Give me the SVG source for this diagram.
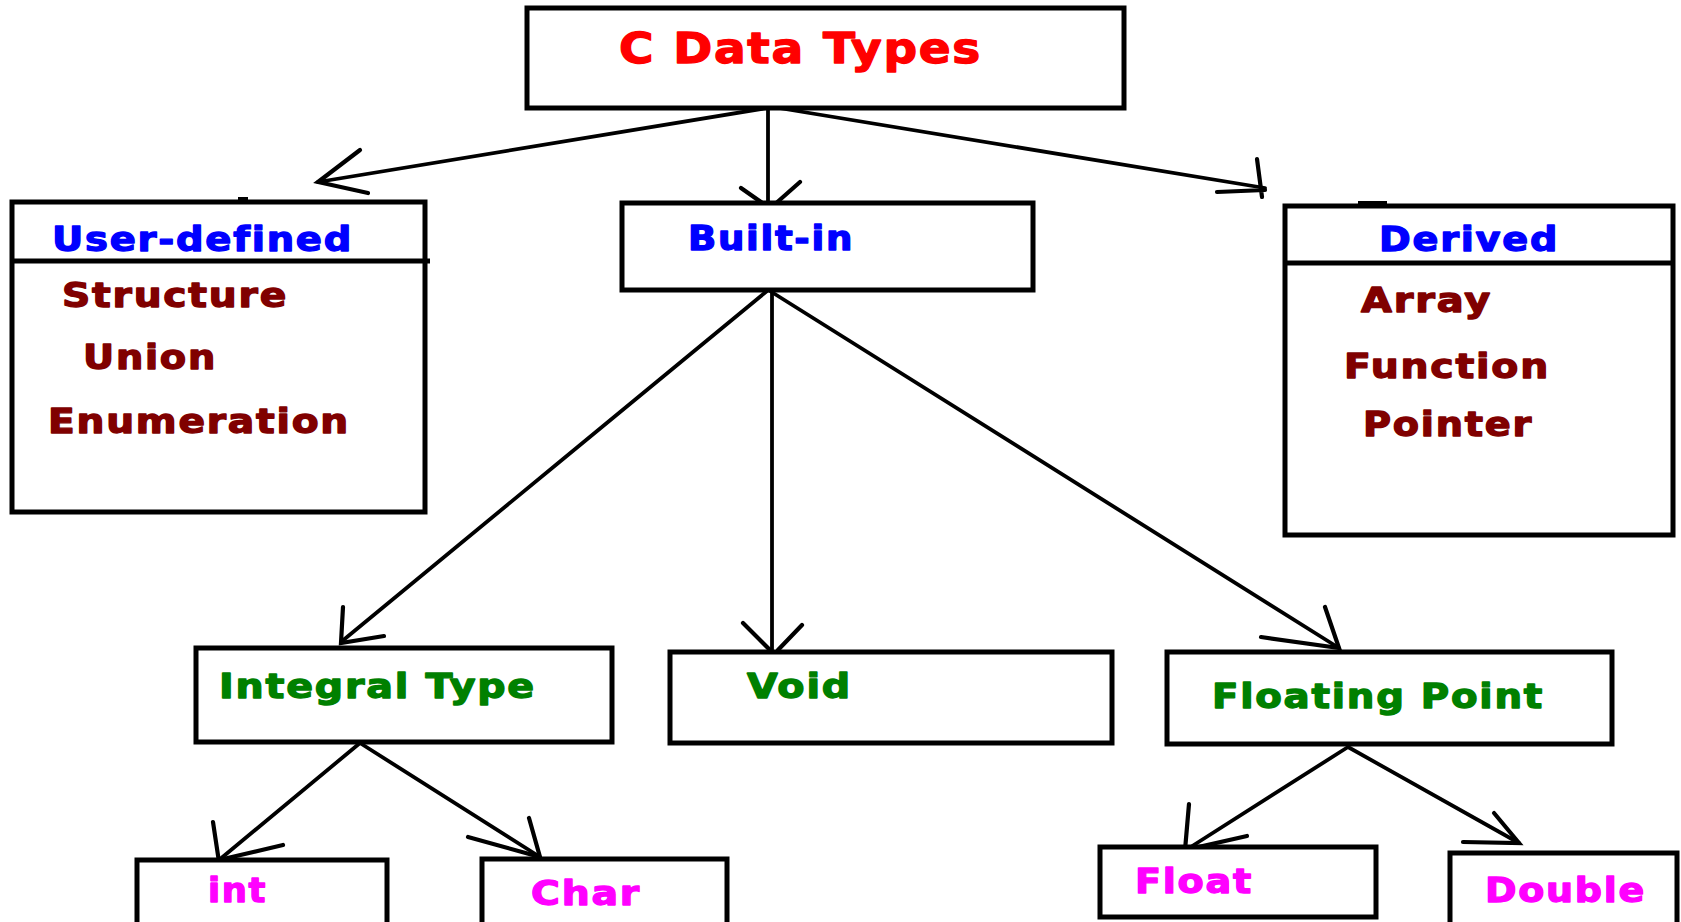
<svg xmlns="http://www.w3.org/2000/svg" width="1681" height="922" viewBox="0 0 1681 922">
<style>
  .box { fill: #fff; stroke: #000; stroke-width: 5; }
  .div { stroke: #000; stroke-width: 5; fill: none; }
  .tick { stroke: #000; stroke-width: 4; fill: none; }
  .con { stroke: #000; stroke-width: 3.8; fill: none; stroke-linecap: round; stroke-linejoin: round; }
  .head { stroke: #000; stroke-width: 4.2; fill: none; stroke-linecap: round; }
  text { font-family: "DejaVu Sans", "Liberation Sans", sans-serif; font-weight: bold; font-size: 33px; letter-spacing: 1.5px; stroke-width: 1.3; stroke-linejoin: round; }
  .title { fill: #FF0000; stroke: #FF0000; font-size: 42px; }
  .cat { fill: #0000FF; stroke: #0000FF; }
  .item { fill: #800000; stroke: #800000; }
  .mid { fill: #008000; stroke: #008000; }
  .leaf { fill: #FF00FF; stroke: #FF00FF; }
</style>
<rect x="0" y="0" width="1681" height="922" fill="#fff"/>

<g id="connectors">
  <path class="con" d="M773,107 L318,182"/>
  <path class="head" d="M360,150 L318,182 L368,193"/>
  <path class="con" d="M768,108 L768,208"/>
  <path class="head" d="M741,188 L768,207 M800,182 L774,205"/>
  <path class="con" d="M773,107 L1265,188"/>
  <path class="head" d="M1257,159 L1262,197 M1217,192 L1265,190"/>

  <path class="con" d="M767,291 L557,464 L341,642"/>
  <path class="head" d="M343,607 L341,643 L384,636"/>
  <path class="con" d="M772,291 L772,660"/>
  <path class="head" d="M743,623 L770,650 M802,625 L778,650"/>
  <path class="con" d="M770,291 L1339,648"/>
  <path class="head" d="M1325,607 L1339,648 L1261,637"/>

  <path class="con" d="M360,743 L219,860"/>
  <path class="head" d="M213,822 L219,862 M283,845 L219,860"/>
  <path class="con" d="M360,743 L540,857"/>
  <path class="head" d="M529,818 L540,857 L468,837"/>
  <path class="con" d="M1348,747 L1186,850"/>
  <path class="head" d="M1189,804 L1185,850 L1247,836"/>
  <path class="con" d="M1348,747 L1519,843"/>
  <path class="head" d="M1494,813 L1519,843 L1463,842"/>
</g>

<g id="node-c-data-types">
  <rect class="box" x="527" y="8" width="597" height="100"/>
  <text class="title" x="619" y="63" textLength="363" lengthAdjust="spacingAndGlyphs">C Data Types</text>
</g>

<g id="node-user-defined">
  <rect class="box" x="12" y="202" width="413" height="310"/>
  <line class="div" x1="12" y1="261" x2="430" y2="261"/>
  <line class="tick" x1="238" y1="199" x2="248" y2="199"/>
  <text class="cat" x="52" y="251" textLength="301" lengthAdjust="spacingAndGlyphs">User-defined</text>
  <text class="item" x="62" y="307" textLength="226" lengthAdjust="spacingAndGlyphs">Structure</text>
  <text class="item" x="83" y="369" textLength="134" lengthAdjust="spacingAndGlyphs">Union</text>
  <text class="item" x="48" y="433" textLength="302" lengthAdjust="spacingAndGlyphs">Enumeration</text>
</g>

<g id="node-built-in">
  <rect class="box" x="622" y="203" width="411" height="87"/>
  <text class="cat" x="688" y="250" textLength="166" lengthAdjust="spacingAndGlyphs">Built-in</text>
</g>

<g id="node-derived">
  <rect class="box" x="1285" y="206" width="388" height="329"/>
  <line class="div" x1="1285" y1="263" x2="1673" y2="263"/>
  <line class="tick" x1="1358" y1="203" x2="1387" y2="203"/>
  <text class="cat" x="1379" y="251" textLength="180" lengthAdjust="spacingAndGlyphs">Derived</text>
  <text class="item" x="1361" y="312" textLength="131" lengthAdjust="spacingAndGlyphs">Array</text>
  <text class="item" x="1344" y="378" textLength="206" lengthAdjust="spacingAndGlyphs">Function</text>
  <text class="item" x="1363" y="436" textLength="170" lengthAdjust="spacingAndGlyphs">Pointer</text>
</g>

<g id="node-integral-type">
  <rect class="box" x="196" y="648" width="416" height="94"/>
  <text class="mid" x="219" y="698" textLength="317" lengthAdjust="spacingAndGlyphs">Integral Type</text>
</g>

<g id="node-void">
  <rect class="box" x="670" y="652" width="442" height="91"/>
  <text class="mid" x="747" y="698" textLength="105" lengthAdjust="spacingAndGlyphs">Void</text>
</g>

<g id="node-floating-point">
  <rect class="box" x="1167" y="652" width="445" height="92"/>
  <text class="mid" x="1212" y="708" textLength="332" lengthAdjust="spacingAndGlyphs">Floating Point</text>
</g>

<g id="node-int">
  <rect class="box" x="137" y="860" width="250" height="90"/>
  <text class="leaf" x="208" y="902" textLength="59" lengthAdjust="spacingAndGlyphs">int</text>
</g>

<g id="node-char">
  <rect class="box" x="482" y="859" width="245" height="90"/>
  <text class="leaf" x="531" y="905" textLength="110" lengthAdjust="spacingAndGlyphs">Char</text>
</g>

<g id="node-float">
  <rect class="box" x="1100" y="847" width="276" height="70"/>
  <text class="leaf" x="1135" y="893" textLength="118" lengthAdjust="spacingAndGlyphs">Float</text>
</g>

<g id="node-double">
  <rect class="box" x="1450" y="853" width="227" height="90"/>
  <text class="leaf" x="1485" y="902" textLength="161" lengthAdjust="spacingAndGlyphs">Double</text>
</g>
</svg>
